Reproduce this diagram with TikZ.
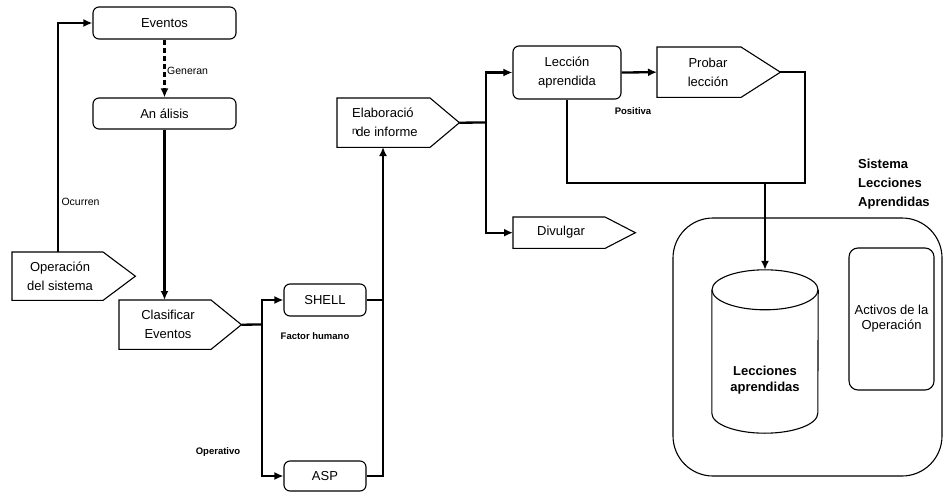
\documentclass[tikz,border=0pt]{standalone}
\usepackage{fontspec}
\setmainfont{Liberation Sans}
\usetikzlibrary{arrows.meta,calc}
\begin{document}
\begin{tikzpicture}[x=1pt,y=-1pt,
  rbox/.style={draw, rounded corners=6pt, line width=1.1pt, inner sep=0pt, font=\fontsize{13}{19}\selectfont, align=center},
  pshape/.style={draw, line width=1.1pt, line join=miter},
  ptxt/.style={inner sep=0pt, font=\fontsize{13}{19}\selectfont, align=center},
  pnode/.style={inner sep=0pt, anchor=north west},
  conn/.style={line width=2.3pt},
  arr/.style={conn, -{Latex[length=9pt,width=8pt]}},
  thinc/.style={line width=1.1pt},
  lbl/.style={font=\fontsize{10.5}{12}\selectfont, inner sep=0pt},
  blbl/.style={font=\bfseries\fontsize{9.5}{12}\selectfont, inner sep=0pt}
]
\useasboundingbox (0,0) rectangle (944,492);

% rounded boxes
\node[rbox, minimum width=143pt, minimum height=32pt] (ev) at (164.5,23) {Eventos};
\node[rbox, minimum width=143pt, minimum height=31pt] (an) at (164.5,113.5) {An álisis};
\node[rbox, minimum width=82pt, minimum height=32pt] (sh) at (325,300) {SHELL};
\node[rbox, minimum width=82pt, minimum height=30pt] (asp) at (325,476) {ASP};
\node[rbox, minimum width=108pt, minimum height=53pt] (le) at (567,72.5) {Lección\\aprendida};

% pentagons
\node[pnode, minimum width=123pt, minimum height=48pt] (op) at (12,252) {};
\draw[pshape] (op.north west) -- ++(91,0) -- (op.east) -- ($(op.south west)+(91,0)$) -- (op.south west) -- cycle;
\node[ptxt] (opt) at (60,276) {Operación\\del sistema};

\node[pnode, minimum width=122pt, minimum height=49pt] (cl) at (119,300) {};
\draw[pshape] (cl.north west) -- ++(92,0) -- (cl.east) -- ($(cl.south west)+(92,0)$) -- (cl.south west) -- cycle;
\node[ptxt] (clt) at (168,324.5) {Clasificar\\Eventos};

\node[pnode, minimum width=122pt, minimum height=49pt] (el) at (337,98) {};
\draw[pshape] (el.north west) -- ++(93,0) -- (el.east) -- ($(el.south west)+(93,0)$) -- (el.south west) -- cycle;
\node[ptxt, align=left, anchor=west] (elt) at (352,122.5) {Elaboració\\\raisebox{2.5pt}{\fontsize{10}{10}\selectfont n}\kern-1.5pt de informe};

\node[pnode, minimum width=123pt, minimum height=50pt] (pb) at (657,47) {};
\draw[pshape] (pb.north west) -- ++(84,0) -- (pb.east) -- ($(pb.south west)+(84,0)$) -- (pb.south west) -- cycle;
\node[ptxt] (pbt) at (708,72) {Probar\\lección};

\node[pnode, minimum width=122pt, minimum height=31pt] (dv) at (513,217) {};
\draw[pshape] (dv.north west) -- ++(92,0) -- (dv.east) -- ($(dv.south west)+(92,0)$) -- (dv.south west) -- cycle;
\node[ptxt] (dvt) at (561,232.5) {Divulgar};

% system container
\node[draw, line width=1.1pt, rounded corners=40pt, minimum width=269pt, minimum height=258pt, inner sep=0pt] (sys) at (807.5,347) {};
\node[font=\bfseries\fontsize{13}{19}\selectfont, align=left, anchor=west, inner sep=0pt] (syst) at (858,184) {Sistema\\Lecciones\\Aprendidas};

% cylinder
\node[inner sep=0pt, minimum width=106pt, minimum height=163pt] (cy) at (765,351.5) {};
\draw[line width=1.1pt] ($(cy.north west)+(0,20)$) -- ($(cy.south west)+(0,-20)$)
  arc[start angle=180, end angle=360, x radius=53pt, y radius=20pt] -- ($(cy.north east)+(0,20)$);
\draw[line width=1.1pt] ($(cy.north)+(0,20)$) ellipse [x radius=53pt, y radius=20pt];
\node[font=\bfseries\fontsize{13}{16}\selectfont, align=center, inner sep=0pt] (cyt) at (765,380) {Lecciones\\aprendidas};

\node[rbox, rounded corners=9pt, minimum width=85pt, minimum height=142pt, font=\fontsize{13}{15}\selectfont] (ac) at (891.5,319) {Activos de la\\Operación};

% connectors
\coordinate (opTop) at (58,252);
\draw[arr] (opTop) |- (ev.west);
\node[lbl] (ocl) at (80.5,202) {Ocurren};
\draw[arr, dash pattern=on 5pt off 3pt] (ev.south) -- (an.north);
\node[lbl, anchor=west] (gel) at (167,71) {Generan};
\draw[arr] (an.south) -- (an.south |- cl.north);
\coordinate (b1) at (262,324.5);
\draw[conn] (cl.east) -- (b1);
\draw[arr] (b1) |- (sh.west);
\draw[arr] (b1) |- (asp.west);
\node[blbl] (fhl) at (315,336) {Factor humano};
\node[blbl] (opl) at (218,452) {Operativo};
\coordinate (elb) at (383,147);
\draw[thinc] (sh.east) -- (sh.east -| elb);
\draw[arr] (asp.east) -| (elb);
\coordinate (b2) at (486,122.5);
\draw[conn] (el.east) -- (b2);
\draw[arr] (b2) |- (le.west);
\draw[arr] (b2) |- (dv.west);
\draw[arr] (le.east) -- (pb.west);
\node[blbl] (pol) at (633,111) {Positiva};
\coordinate (rc) at (805,183);
\draw[conn] (le.south) |- (rc) |- (pb.east);
\coordinate (jd) at (765,183);
\draw[arr] (jd) -- (cy.north);
\end{tikzpicture}
\end{document}
